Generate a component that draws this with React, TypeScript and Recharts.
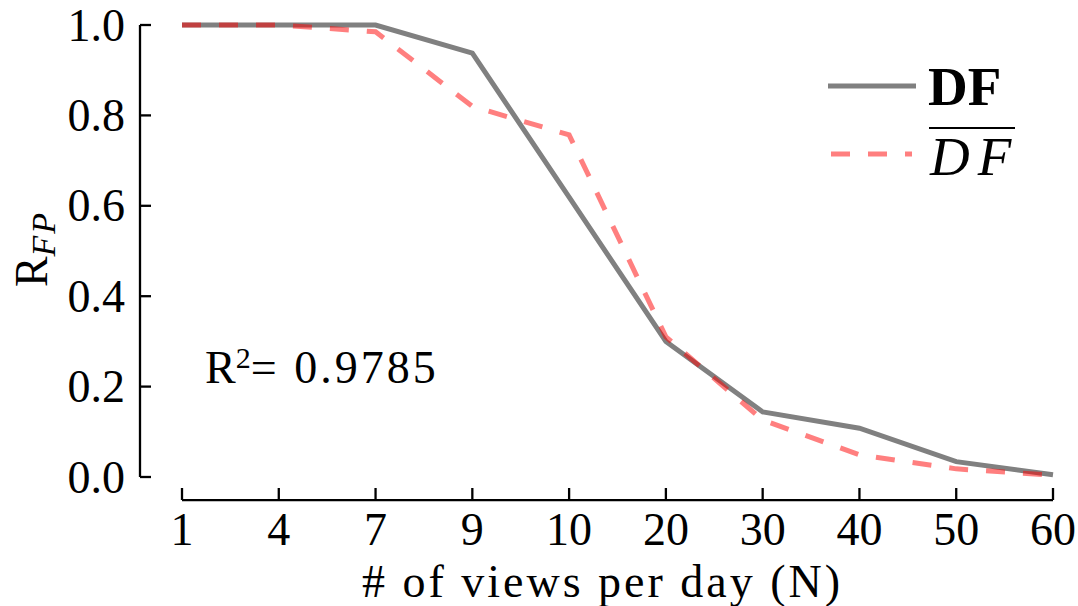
import { LineChart, Line, XAxis, YAxis, ReferenceLine, Legend } from "recharts";

const views = ["1", "4", "7", "9", "10", "20", "30", "40", "50", "60"];
const dfValues = [1.0, 1.0, 1.0, 0.938, 0.619, 0.3, 0.144, 0.108, 0.034, 0.005];
const dfBarValues = [1.0, 1.0, 0.985, 0.82, 0.757, 0.31, 0.126, 0.049, 0.018, 0.004];
const yTicks = [0, 0.2, 0.4, 0.6, 0.8, 1.0];

const data = views.map((n, i) => ({ n, df: dfValues[i], dfBar: dfBarValues[i] }));

const FONT = "'Liberation Serif', 'Times New Roman', serif";

function YTick({ x, y, payload }: any) {
  return (
    <g>
      <line x1={x} x2={x + 11} y1={y} y2={y} stroke="#000" strokeWidth={2.3} />
      <text x={x - 15} y={y} textAnchor="end" dominantBaseline="central" fontFamily={FONT} fontSize={46} fill="#000">
        {Number(payload.value).toFixed(1)}
      </text>
    </g>
  );
}

function XTick({ x, y, payload }: any) {
  return (
    <g>
      <line x1={x} x2={x} y1={y + 11} y2={y + 23} stroke="#000" strokeWidth={2.3} />
      <text x={x} y={y + 68} textAnchor="middle" fontFamily={FONT} fontSize={46} fill="#000">
        {payload.value}
      </text>
    </g>
  );
}

function LegendBox() {
  return (
    <svg width={250} height={150} style={{ display: "block" }}>
      <line x1={0} x2={88} y1={46} y2={46} stroke="#808080" strokeWidth={5} />
      <text x={100} y={65} fontFamily={FONT} fontSize={55} fontWeight="bold" fill="#000">
        DF
      </text>
      <line x1={3} x2={84} y1={114} y2={114} stroke="red" strokeOpacity={0.5} strokeWidth={5} strokeDasharray="19 18" />
      <line x1={101} x2={187} y1={88} y2={88} stroke="#000" strokeWidth={2} />
      <text x={102} y={135} fontFamily={FONT} fontSize={55} fontStyle="italic" fill="#000" letterSpacing={8}>
        DF
      </text>
    </svg>
  );
}

export default function App() {
  return (
    <div style={{ position: "absolute", left: 0, top: 0, width: 1078, height: 606, background: "#fff" }}>
      <LineChart width={1078} height={606} data={data} margin={{ top: 25, right: 25, bottom: 0, left: 0 }}>
        <XAxis
          dataKey="n"
          height={129}
          padding={{ left: 42, right: 0 }}
          axisLine={false}
          tickLine={false}
          tickSize={0}
          tickMargin={0}
          interval={0}
          tick={<XTick />}
          label={{
            content: ({ viewBox }: any) => (
              <text
                x={viewBox.x + viewBox.width / 2 + 6}
                y={viewBox.y + 120}
                textAnchor="middle"
                fontFamily={FONT}
                fontSize={46}
                letterSpacing={3}
                fill="#000"
              >
                # of views per day (N)
              </text>
            ),
          }}
        />
        <YAxis
          width={140}
          domain={[0, 1]}
          ticks={yTicks}
          axisLine={{ stroke: "#000", strokeWidth: 2.3 }}
          tickLine={false}
          tickSize={0}
          tickMargin={0}
          tick={<YTick />}
          label={{
            content: () => (
              <text transform="translate(47, 249) rotate(-90)" textAnchor="middle" fontFamily={FONT} fontSize={46} fill="#000">
                R
                <tspan fontStyle="italic" fontSize={34} dy={8} letterSpacing={2}>
                  FP
                </tspan>
              </text>
            ),
          }}
        />
        <ReferenceLine
          segment={[
            { x: "1", y: -0.051 },
            { x: "60", y: -0.051 },
          ]}
          stroke="#000"
          strokeWidth={2.3}
          ifOverflow="visible"
        />
        <Legend
          layout="vertical"
          align="center"
          verticalAlign="middle"
          wrapperStyle={{ left: 828, top: 40, width: 250 }}
          content={() => <LegendBox />}
        />
        <Line
          type="linear"
          dataKey="df"
          stroke="#808080"
          strokeWidth={5}
          dot={false}
          activeDot={false}
          isAnimationActive={false}
        />
        <Line
          type="linear"
          dataKey="dfBar"
          stroke="red"
          strokeOpacity={0.5}
          strokeWidth={5}
          strokeDasharray="19 18"
          dot={false}
          activeDot={false}
          isAnimationActive={false}
        />
        <text x={205} y={383} fontFamily={FONT} fontSize={46} fill="#000">
          R
          <tspan dy={-15} fontSize={30}>
            2
          </tspan>
          <tspan dy={15} letterSpacing={3}>
            = 0.9785
          </tspan>
        </text>
      </LineChart>
    </div>
  );
}
